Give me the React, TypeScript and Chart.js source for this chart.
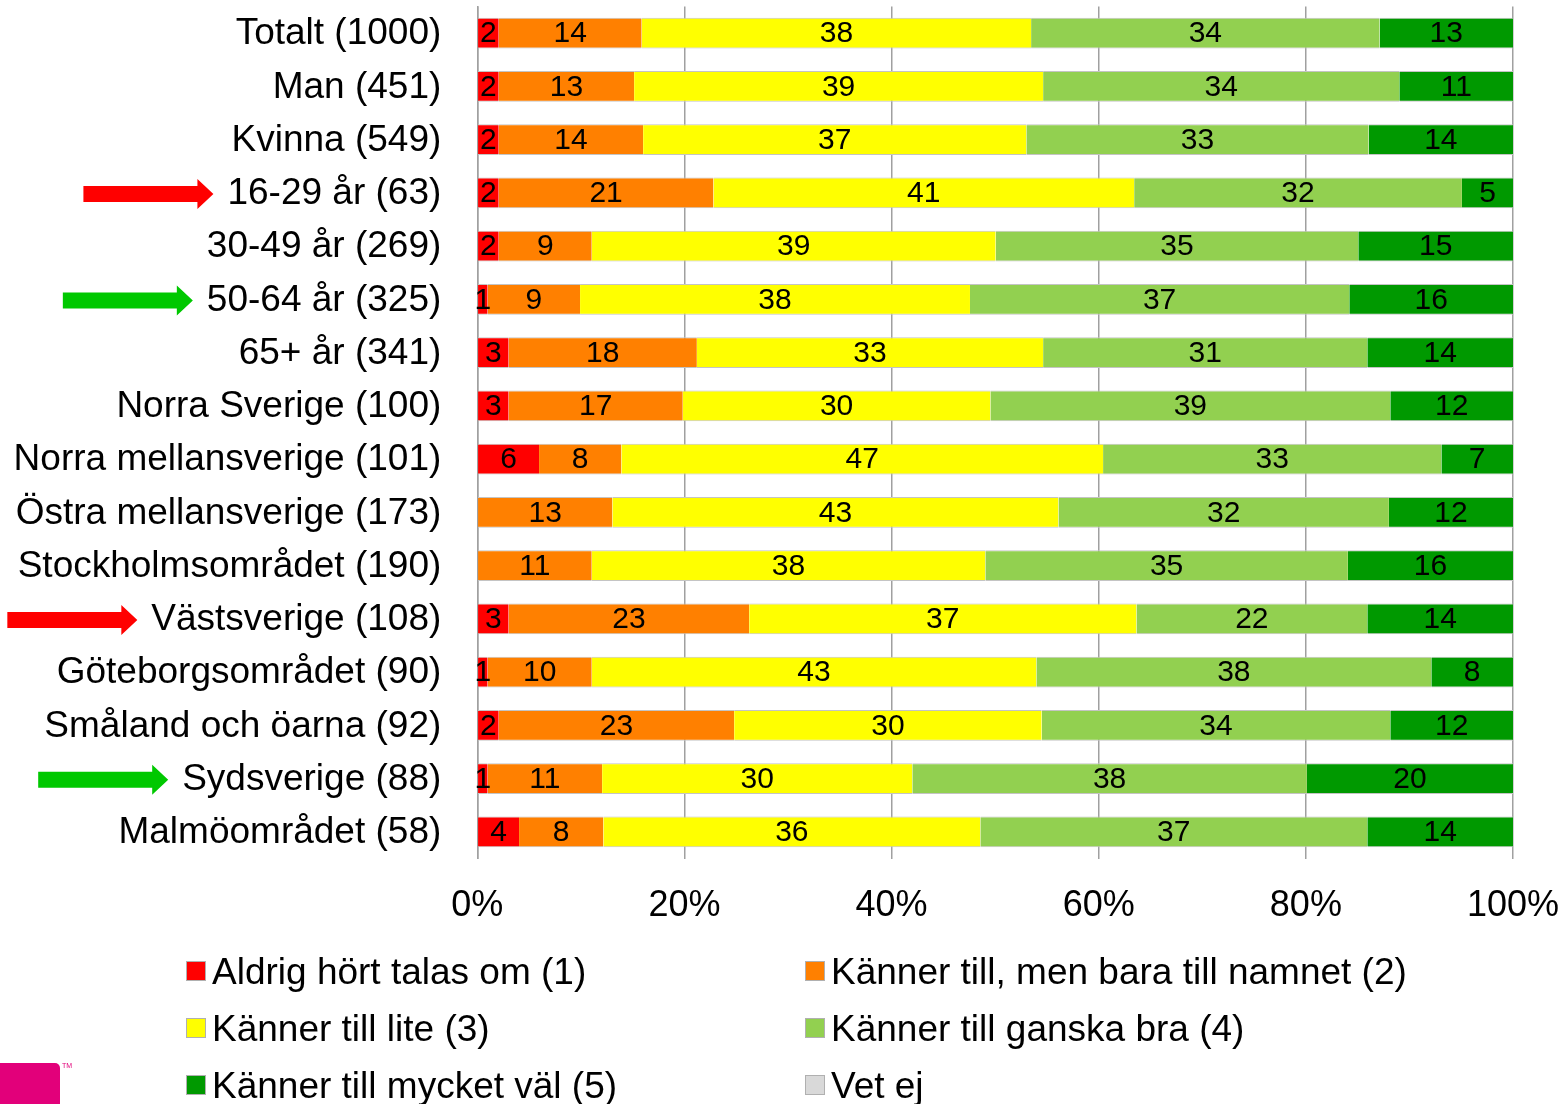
import React, { useEffect, useRef } from "react";
import { Chart, registerables } from "chart.js";

Chart.register(...registerables);

const FONT = "'Liberation Sans', Arial, Helvetica, sans-serif";

const categories = [
  "Totalt (1000)",
  "Man (451)",
  "Kvinna (549)",
  "16-29 år (63)",
  "30-49 år (269)",
  "50-64 år (325)",
  "65+ år (341)",
  "Norra Sverige (100)",
  "Norra mellansverige (101)",
  "Östra mellansverige (173)",
  "Stockholmsområdet (190)",
  "Västsverige (108)",
  "Göteborgsområdet (90)",
  "Småland och öarna (92)",
  "Sydsverige (88)",
  "Malmöområdet (58)",
];

const seriesLabels = [
  "Aldrig hört talas om (1)",
  "Känner till, men bara till namnet (2)",
  "Känner till lite (3)",
  "Känner till ganska bra (4)",
  "Känner till mycket väl (5)",
  "Vet ej",
];

const seriesColors = ["#ff0000", "#ff8000", "#ffff00", "#92d050", "#009900", "#d9d9d9"];

const aldrig = [2.07, 2.07, 2.07, 2.07, 2.07, 1.0, 3.03, 3.03, 5.96, 0, 0, 3.03, 1.0, 2.07, 1.0, 4.03];
const namnet = [13.8, 13.07, 13.94, 20.73, 8.98, 8.92, 18.17, 16.81, 7.95, 13.04, 11.05, 23.22, 10.05, 22.73, 11.05, 8.14];
const lite = [37.6, 39.49, 37.0, 40.62, 39.0, 37.65, 33.43, 29.7, 46.51, 43.07, 38.0, 37.39, 42.93, 29.69, 29.95, 36.4];
const ganskaBra = [33.65, 34.39, 33.05, 31.65, 35.01, 36.62, 31.3, 38.61, 32.66, 31.91, 35.01, 22.29, 38.13, 33.66, 38.1, 37.36];
const mycketVal = [12.88, 11.0, 13.94, 4.93, 14.94, 15.81, 14.07, 11.85, 6.92, 11.98, 15.94, 14.07, 7.89, 11.85, 19.9, 14.07];
const vetEj = [0, 0, 0, 0, 0, 0, 0, 0, 0, 0, 0, 0, 0, 0, 0, 0];

const xTicks = [0, 20, 40, 60, 80, 100];

const arrowCategories = ["16-29 år (63)", "50-64 år (325)", "Västsverige (108)", "Sydsverige (88)"];
const arrowColors = ["#ff0000", "#00c800", "#ff0000", "#00c800"];

const Y_FONT = 37;

const labelPlugin = {
  id: "segmentLabels",
  afterDatasetsDraw(chart: any) {
    const ctx = chart.ctx;
    ctx.save();
    ctx.font = `30px ${FONT}`;
    ctx.fillStyle = "#000";
    ctx.textAlign = "center";
    ctx.textBaseline = "middle";
    chart.data.datasets.forEach((ds: any, di: number) => {
      const meta = chart.getDatasetMeta(di);
      meta.data.forEach((bar: any, i: number) => {
        const v = Math.round(ds.data[i]);
        if (v < 1) return;
        const p = bar.getProps(["x", "y", "base"], true);
        ctx.fillText(String(v), (p.x + p.base) / 2, p.y + 1);
      });
    });
    ctx.restore();
  },
};

const arrowPlugin = {
  id: "arrows",
  afterDraw(chart: any) {
    const ctx = chart.ctx;
    const yScale = chart.scales.y;
    ctx.save();
    ctx.font = `${Y_FONT}px ${FONT}`;
    arrowCategories.forEach((cat, k) => {
      const idx = categories.indexOf(cat);
      if (idx < 0) return;
      const y = yScale.getPixelForValue(idx) + 1;
      const w = ctx.measureText(cat).width;
      const tip = yScale.right - 36 - w - 14;
      const len = 130;
      const headLen = 16;
      const shaftH = 8;
      const headH = 15;
      ctx.fillStyle = arrowColors[k];
      ctx.beginPath();
      ctx.moveTo(tip - len, y - shaftH);
      ctx.lineTo(tip - headLen, y - shaftH);
      ctx.lineTo(tip - headLen, y - headH);
      ctx.lineTo(tip, y);
      ctx.lineTo(tip - headLen, y + headH);
      ctx.lineTo(tip - headLen, y + shaftH);
      ctx.lineTo(tip - len, y + shaftH);
      ctx.closePath();
      ctx.fill();
    });
    ctx.restore();
  },
};

export default function App() {
  const canvasRef = useRef<HTMLCanvasElement | null>(null);

  useEffect(() => {
    if (!canvasRef.current) return;
    const seriesData = [aldrig, namnet, lite, ganskaBra, mycketVal, vetEj];
    const chart = new Chart(canvasRef.current, {
      type: "bar",
      data: {
        labels: categories,
        datasets: seriesData.map((d, i) => ({
          label: seriesLabels[i],
          data: d,
          backgroundColor: seriesColors[i],
          borderColor: "#c4c4c4",
          borderWidth: { top: 1, bottom: 1, left: 0, right: 0 },
          borderSkipped: false,
          barPercentage: 0.582,
          categoryPercentage: 1,
        })),
      },
      options: {
        indexAxis: "y",
        responsive: false,
        animation: false,
        events: [],
        layout: { padding: { top: 6.5, right: 50, bottom: 165.5, left: 0 } },
        plugins: {
          legend: { display: false },
          tooltip: { enabled: false },
        },
        scales: {
          x: {
            stacked: true,
            min: 0,
            max: 100,
            afterFit(scale: any) {
              scale.height = 80;
              scale.paddingLeft = 0;
              scale.paddingRight = 0;
            },
            afterBuildTicks(scale: any) {
              scale.ticks = xTicks.map((v) => ({ value: v }));
            },
            ticks: {
              font: { family: FONT, size: 36 },
              color: "#000",
              padding: 26,
              callback: (v: any) => `${v}%`,
            },
            grid: {
              color: "#a0a0a0",
              lineWidth: 1.5,
              drawTicks: false,
            },
            border: { display: false },
          },
          y: {
            stacked: true,
            afterFit(scale: any) {
              scale.width = 477.3;
              scale.paddingTop = 0;
              scale.paddingBottom = 0;
            },
            ticks: {
              font: { family: FONT, size: Y_FONT },
              color: "#000",
              padding: 36,
              autoSkip: false,
              labelOffset: 1,
            },
            grid: { display: false, drawTicks: false },
            border: { display: true, color: "#a0a0a0", width: 1.5 },
          },
        },
      },
      plugins: [labelPlugin, arrowPlugin],
    } as any);
    return () => chart.destroy();
  }, []);

  const legendItems = seriesLabels.map((l, i) => ({ label: l, color: seriesColors[i] }));

  return (
    <div
      style={{
        position: "absolute",
        left: 0,
        top: 0,
        width: 1563,
        height: 1104,
        overflow: "hidden",
        background: "#fff",
        fontFamily: FONT,
      }}
    >
      <canvas ref={canvasRef} width={1563} height={1104} style={{ display: "block", width: 1563, height: 1104 }} />
      <div
        style={{
          position: "absolute",
          left: 186,
          top: 942.5,
          display: "grid",
          gridTemplateColumns: "619px auto",
          gridAutoRows: "57px",
        }}
      >
        {legendItems.map((it) => (
          <div key={it.label} style={{ display: "flex", alignItems: "center", height: 57 }}>
            <span
              style={{
                display: "inline-block",
                width: 20,
                height: 20,
                background: it.color,
                border: "0.5px solid #b0b0b0",
                boxSizing: "border-box",
                marginRight: 6,
              }}
            />
            <span style={{ fontSize: 37, color: "#000", whiteSpace: "nowrap", lineHeight: "57px" }}>{it.label}</span>
          </div>
        ))}
      </div>
      <div
        style={{
          position: "absolute",
          left: 0,
          top: 1063,
          width: 60,
          height: 41,
          background: "#e2007a",
          borderTopRightRadius: 5,
        }}
      />
      <div
        style={{
          position: "absolute",
          left: 62,
          top: 1062,
          fontSize: 7,
          color: "#e2007a",
          lineHeight: "8px",
        }}
      >
        TM
      </div>
    </div>
  );
}
